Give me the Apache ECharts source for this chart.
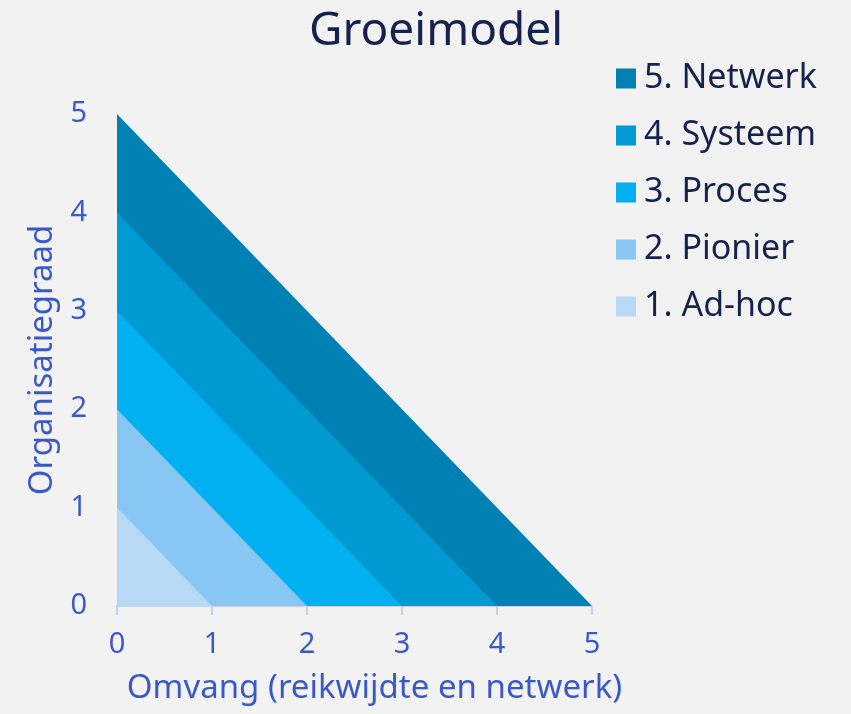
<!DOCTYPE html>
<html>
<head>
<meta charset="utf-8">
<script src="https://cdn.jsdelivr.net/npm/echarts@6/dist/echarts.min.js"></script>
<style>
  html, body { margin: 0; padding: 0; background: #f2f2f2; }
  #chart { width: 851px; height: 714px; }
</style>
</head>
<body>
<div id="chart"></div>
<script>
// niveaus van groot naar klein (grootste driehoek eerst getekend)
const levelNames = ['5. Netwerk', '4. Systeem', '3. Proces', '2. Pionier', '1. Ad-hoc']
const levelValues = [5, 4, 3, 2, 1]
const levelColors = ['#0081b3', '#0099d1', '#00b0f0', '#88c6f3', '#b8d9f6']
const tickValues = [0, 1, 2, 3, 4, 5]

const labelColor = '#3b59c6'
const fontFamily = '"Noto Sans", "Open Sans", sans-serif'

const myChart = echarts.init(document.getElementById('chart'))

const series = levelNames.map(function (name, i) {
  const v = levelValues[i]
  return {
    name: name,
    type: 'line',
    data: [[0, v], [v, 0]],
    symbol: 'none',
    silent: true,
    lineStyle: { width: 0 },
    itemStyle: { color: levelColors[i] },
    areaStyle: { color: levelColors[i], opacity: 1 }
  }
})

const option = {
  backgroundColor: '#f2f2f2',
  animation: false,
  textStyle: { fontFamily: fontFamily },
  title: {
    text: 'Groeimodel',
    left: 431,
    textAlign: 'center',
    top: 4,
    textStyle: { color: '#14224d', fontSize: 46, fontWeight: 'normal', fontFamily: fontFamily }
  },
  legend: {
    orient: 'vertical',
    left: 611,
    top: 56,
    icon: 'rect',
    itemWidth: 20,
    itemHeight: 20,
    itemGap: 22,
    data: levelNames,
    textStyle: { color: '#14224d', fontSize: 34, lineHeight: 35, fontFamily: fontFamily, padding: [0, 0, 0, 3] }
  },
  grid: {
    left: 117,
    right: 259,
    top: 114,
    bottom: 108
  },
  xAxis: {
    type: 'value',
    min: 0,
    max: 5,
    interval: 1,
    name: 'Omvang (reikwijdte en netwerk)',
    nameLocation: 'middle',
    nameGap: 66,
    nameTextStyle: { color: labelColor, fontSize: 33, fontFamily: fontFamily, padding: [0, 0, 0, 40] },
    axisLine: { show: true, lineStyle: { color: '#c9d0ef', width: 2 } },
    axisTick: { show: true, length: 9, lineStyle: { color: '#c9d0ef', width: 2 } },
    axisLabel: {
      color: labelColor, fontSize: 29, margin: 24, fontFamily: fontFamily,
      formatter: function (v) { return tickValues.indexOf(v) >= 0 ? String(v) : '' }
    },
    splitLine: { show: false }
  },
  yAxis: {
    type: 'value',
    min: 0,
    max: 5,
    interval: 1,
    name: 'Organisatiegraad',
    nameLocation: 'middle',
    nameGap: 58,
    nameTextStyle: { color: labelColor, fontSize: 33, fontFamily: fontFamily },
    axisLine: { show: true, lineStyle: { color: '#c9d0ef', width: 1 } },
    axisTick: { show: false },
    axisLabel: {
      color: labelColor, fontSize: 29, margin: 30, fontFamily: fontFamily,
      formatter: function (v) { return tickValues.indexOf(v) >= 0 ? String(v) : '' }
    },
    splitLine: { show: false }
  },
  series: series
}

myChart.setOption(option)
window.addEventListener('resize', function () {
  myChart.resize()
})
</script>
</body>
</html>
